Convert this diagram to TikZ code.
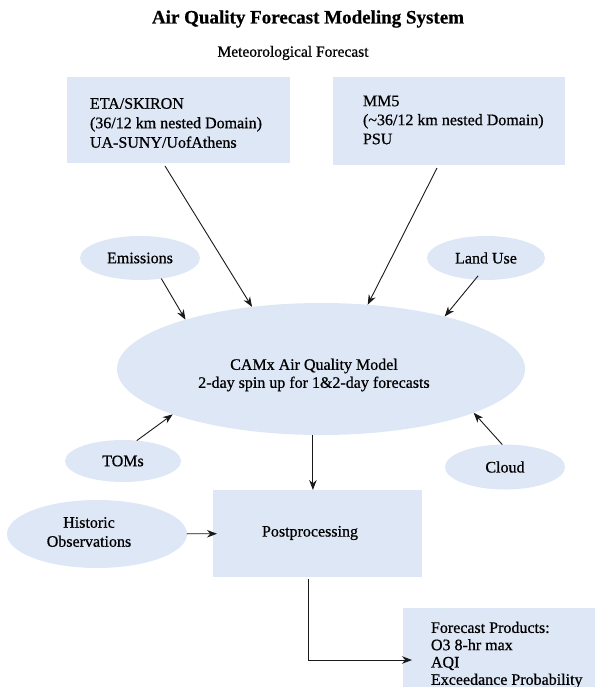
\documentclass[tikz,border=0pt]{standalone}
\usepackage{fontspec}
\setmainfont{Liberation Serif}[FakeBold=0.7]
\usetikzlibrary{arrows.meta,shapes.geometric,calc}
\definecolor{boxfill}{RGB}{222,231,245}
\definecolor{linecol}{RGB}{25,25,25}
\begin{document}
\begin{tikzpicture}[x=1pt,y=-1pt,
  every node/.style={font=\fontsize{16}{19}\selectfont, inner sep=0pt, outer sep=0pt},
  rbox/.style={rectangle, fill=boxfill, draw=none, anchor=north west},
  oval/.style={ellipse, fill=boxfill, draw=none},
  conn/.style={draw=linecol, line width=0.9pt, -{Stealth[length=10pt,width=7.5pt]}},
]
\useasboundingbox (0,0) rectangle (594,687);

% titles
\node[font=\fontsize{19}{22}\selectfont\bfseries] (title) at (308,19) {Air Quality Forecast Modeling System};
\node[font=\fontsize{15.5}{18}\selectfont] (met) at (293,53) {Meteorological Forecast};

% boxes
\node[rbox, minimum width=223pt, minimum height=86pt] (eta) at (67,77) {};
\node[rbox, minimum width=232pt, minimum height=88pt] (mm5) at (333,77) {};
\node[rbox, minimum width=209pt, minimum height=87pt] (post) at (213,490) {};
\node[rbox, minimum width=200pt, minimum height=92pt] (fp) at (403,608) {};

\node[anchor=west, align=left, font=\fontsize{16}{19.5}\selectfont] (etat) at (90,123)
  {ETA/SKIRON\\(36/12 km nested Domain)\\UA-SUNY/UofAthens};
\node[anchor=west, align=left, font=\fontsize{16}{19}\selectfont] (mm5t) at (363,120)
  {MM5\\(\textasciitilde36/12 km nested Domain)\\PSU};
\node (postt) at (310,533) {Postprocessing};
\node[anchor=west, align=left, font=\fontsize{16}{17.3}\selectfont] (fpt) at (431,655)
  {Forecast Products:\\O3 8-hr max\\AQI\\Exceedance Probability};

% ellipses
\node[oval, minimum width=408pt, minimum height=132pt] (camx) at (321,369) {};
\node[align=center, font=\fontsize{16}{18}\selectfont] (camxt) at (314,375)
  {CAMx Air Quality Model\\2-day spin up for 1\&2-day forecasts};
\node[oval, minimum width=120pt, minimum height=44pt] (emis) at (140,258) {Emissions};
\node[oval, minimum width=118pt, minimum height=44pt] (land) at (486,258) {Land Use};
\node[oval, minimum width=116pt, minimum height=42pt] (toms) at (123,461) {TOMs};
\node[oval, minimum width=120pt, minimum height=45pt] (cloud) at (505,467) {Cloud};
\node[oval, minimum width=180pt, minimum height=68pt] (hist) at (97,534) {};
\node[align=center] (histt) at (89,532) {Historic\\Observations};

% connectors
\draw[conn] ([shift={(-13.5,3)}]eta.south) -- (camx.138);
\draw[conn] ([shift={(-12,3)}]mm5.south) -- (camx.54);
\draw[conn] (emis.316) -- (camx.160);
\draw[conn, shorten <=-5pt] (land.243) -- (camx.23);
\draw[conn] (toms.56) -- (camx.197.5);
\draw[conn] (cloud.97) -- (camx.344);
\draw[conn] (camx.263) -- (camx.263 |- post.north);
\draw[conn, shorten >=-4pt] (hist) -- (post);
\draw[conn] ([shift={(-9.5,2)}]post.south) |- ([shift={(9,6)}]fp.west);
\end{tikzpicture}
\end{document}
